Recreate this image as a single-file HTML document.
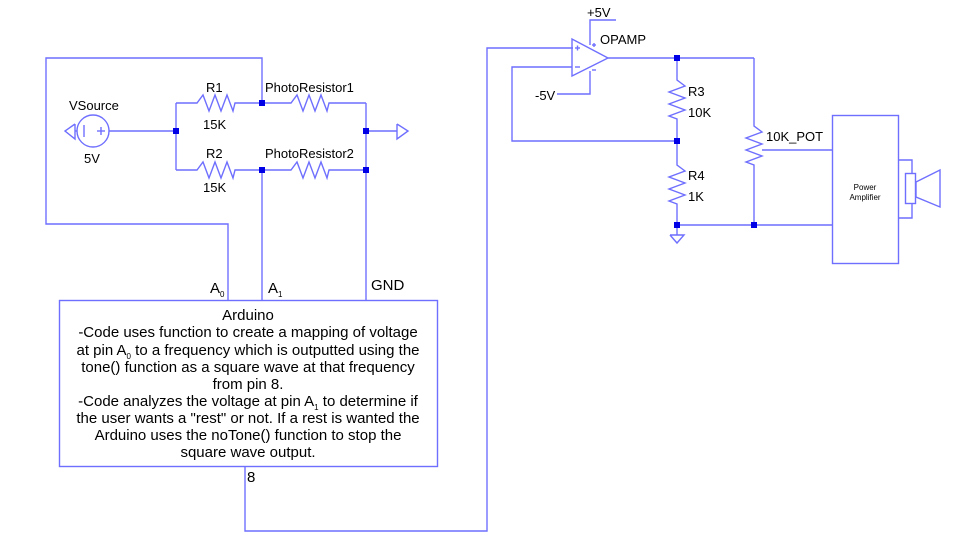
<!DOCTYPE html>
<html><head><meta charset="utf-8"><style>
html,body{margin:0;padding:0;background:#fff;}
svg{display:block;font-family:"Liberation Sans",Arial,sans-serif;}
</style></head><body>
<svg width="973" height="557" viewBox="0 0 973 557" xmlns="http://www.w3.org/2000/svg">
<g fill="none" stroke="#6f6fff" stroke-width="1.4">
<polyline points="262,103 262,58 46,58 46,224 228,224 228,300"/>
<circle cx="93" cy="131" r="16"/>
<line x1="84" y1="125" x2="84" y2="137"/>
<line x1="97" y1="131" x2="105" y2="131"/><line x1="101" y1="127" x2="101" y2="135"/>
<polyline points="77,131 75,131"/>
<polyline points="75,124 65,131 75,139 75,124"/>
<line x1="109" y1="131" x2="176" y2="131"/>
<line x1="176" y1="103" x2="176" y2="170"/>
<polyline points="176,103 197,103 203,95 209,111 215,95 221,111 227,95 233,111 235,103 262,103"/>
<polyline points="176,170 197,170 203,162 209,178 215,162 221,178 227,162 233,178 235,170 262,170"/>
<polyline points="262,103 291,103 297,95 303,111 309,95 315,111 321,95 327,111 329,103 366,103"/>
<polyline points="262,170 291,170 297,162 303,178 309,162 315,178 321,162 327,178 329,170 366,170"/>
<line x1="366" y1="103" x2="366" y2="300"/>
<line x1="262" y1="170" x2="262" y2="300"/>
<line x1="366" y1="131" x2="397" y2="131"/>
<polyline points="397,124 408,131 397,139 397,124"/>
<rect x="59.5" y="300.5" width="378" height="166"/>
<polyline points="245,467 245,531 487,531 487,48 573,48"/>
<polygon points="572,39 572,76 608,58"/>
<polyline points="590,45 590,20 616,20"/>
<polyline points="590,71 590,94 557,94"/>
<polyline points="572,67 512,67 512,141 677,141"/>
<line x1="608" y1="58" x2="754" y2="58"/>
<polyline points="677,58 677,80 685,86 669,92 685,98 669,104 685,110 669,116 677,119 677,141"/>
<polyline points="677,141 677,165 685,171 669,177 685,183 669,189 685,195 669,201 677,204 677,235"/>
<polyline points="670,235 684,235 677,243 670,235"/>
<polyline points="754,58 754,126 762,132 746,138 762,144 746,150 762,156 746,162 754,165 754,225"/>
<line x1="762" y1="150" x2="832" y2="150"/>
<line x1="677" y1="225" x2="832" y2="225"/>
<rect x="832.5" y="115.5" width="66" height="148"/>
<polyline points="899,160 912,160 912,173"/>
<polyline points="899,218 912,218 912,204"/>
<rect x="905.5" y="173.5" width="10" height="30"/>
<polygon points="916,182 940,170 940,207 916,197"/>
<line x1="575" y1="48" x2="580" y2="48"/><line x1="577.5" y1="45.5" x2="577.5" y2="50.5"/>
<line x1="575" y1="67" x2="580" y2="67"/>
<line x1="592" y1="45" x2="596" y2="45"/><line x1="594" y1="43" x2="594" y2="47"/>
<line x1="592" y1="70" x2="596" y2="70"/>
</g>
<g fill="#0000e6">
<rect x="173" y="128" width="6" height="6"/>
<rect x="259" y="100" width="6" height="6"/>
<rect x="259" y="167" width="6" height="6"/>
<rect x="363" y="128" width="6" height="6"/>
<rect x="363" y="167" width="6" height="6"/>
<rect x="674" y="55" width="6" height="6"/>
<rect x="674" y="138" width="6" height="6"/>
<rect x="674" y="222" width="6" height="6"/>
<rect x="751" y="222" width="6" height="6"/>
</g>
<g fill="#000" font-size="13">
<text x="69" y="110">VSource</text>
<text x="84" y="163">5V</text>
<text x="206" y="92">R1</text>
<text x="203" y="129">15K</text>
<text x="206" y="158">R2</text>
<text x="203" y="192">15K</text>
<text x="265" y="92">PhotoResistor1</text>
<text x="265" y="158">PhotoResistor2</text>
<text x="210" y="293" font-size="15">A</text><text x="220" y="297" font-size="8">0</text>
<text x="268" y="293" font-size="15">A</text><text x="278" y="297" font-size="8">1</text>
<text x="371" y="290" font-size="15">GND</text>
<text x="247" y="482" font-size="15">8</text>
<text x="587" y="17">+5V</text>
<text x="600" y="44">OPAMP</text>
<text x="535" y="100">-5V</text>
<text x="688" y="96">R3</text>
<text x="688" y="117">10K</text>
<text x="688" y="180">R4</text>
<text x="688" y="201">1K</text>
<text x="766" y="141">10K_POT</text>
<text x="865" y="190" font-size="8" text-anchor="middle">Power</text>
<text x="865" y="200" font-size="8" text-anchor="middle">Amplifier</text>
</g>
<g fill="#000" font-size="15" text-anchor="middle">
<text x="248" y="320">Arduino</text>
<text x="248" y="337">-Code uses function to create a mapping of voltage</text>
<text x="248" y="355">at pin A<tspan font-size="8" dy="4">0</tspan><tspan dy="-4"> to a frequency which is outputted using the</tspan></text>
<text x="248" y="372">tone() function as a square wave at that frequency</text>
<text x="248" y="389">from pin 8.</text>
<text x="248" y="406">-Code analyzes the voltage at pin A<tspan font-size="8" dy="4">1</tspan><tspan dy="-4"> to determine if</tspan></text>
<text x="248" y="423">the user wants a "rest" or not. If a rest is wanted the</text>
<text x="248" y="440">Arduino uses the noTone() function to stop the</text>
<text x="248" y="457">square wave output.</text>
</g>
</svg>
</body></html>
